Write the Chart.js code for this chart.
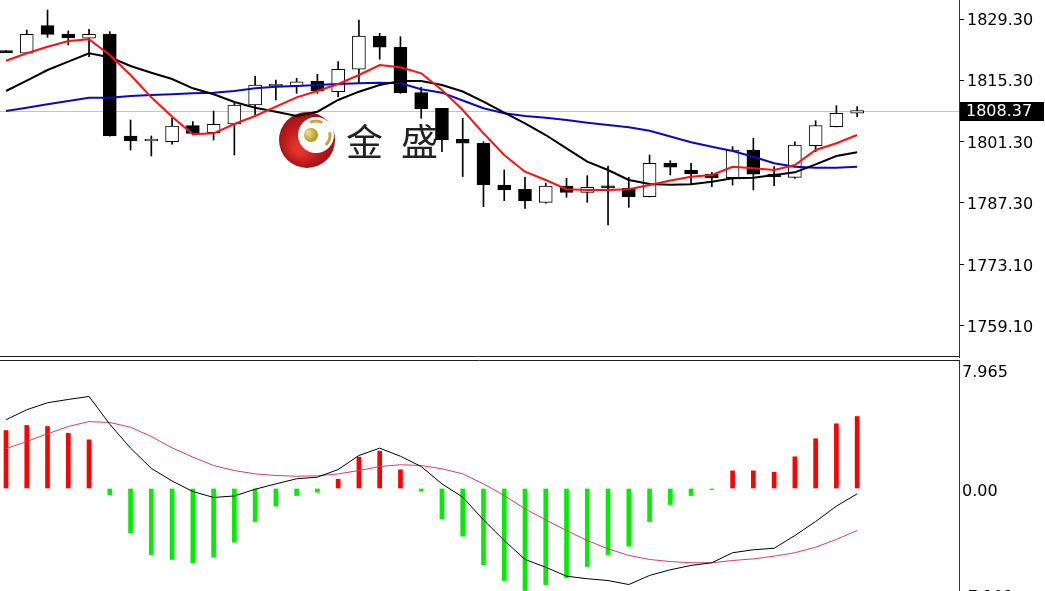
<!DOCTYPE html>
<html>
<head>
<meta charset="utf-8">
<script src="https://cdn.jsdelivr.net/npm/chart.js@4.4.1/dist/chart.umd.min.js"></script>
<style>
  html, body { margin: 0; padding: 0; background: #fff; overflow: hidden; width: 1045px; height: 591px; }
  #pricePane { position: absolute; left: 0; top: 0; width: 1045px; height: 358px; }
  #macdPane { position: absolute; left: 0; top: 360px; width: 1045px; height: 260px; }
</style>
</head>
<body>
<div id="pricePane"><canvas id="priceChart"></canvas></div>
<div id="macdPane"><canvas id="macdChart"></canvas></div>
<script>
// candles, oldest first
const opens  = [1822.1, 1821.46, 1827.77, 1825.87, 1824.89, 1825.87, 1802.55, 1801.4, 1801.24, 1804.9,
                1803.3, 1805.29, 1809.63, 1813.98, 1813.98, 1815.12, 1812.68, 1817.8, 1825.41, 1822.83,
                1812.45, 1808.88, 1801.79, 1800.88, 1791.34, 1790.36, 1787.38, 1791.11, 1789.67, 1790.81,
                1790.58, 1788.66, 1796.3, 1794.77, 1793.86, 1793.01, 1799.34, 1793.79, 1793.1, 1800.33,
                1804.67, 1807.74];
const highs  = [1822.1, 1826.78, 1831.36, 1826.56, 1826.94, 1826.4, 1806.2, 1802.55, 1806.59, 1805.82,
                1808.26, 1810.02, 1816.27, 1815.35, 1815.74, 1816.65, 1819.54, 1829.07, 1826.03, 1825.25,
                1813.68, 1808.9, 1806.59, 1801.24, 1794.77, 1793.1, 1791.73, 1792.87, 1793.47, 1795.68,
                1793.1, 1798.2, 1796.9, 1796.3, 1794.24, 1800.1, 1802.02, 1795.53, 1801.24, 1806.04,
                1809.47, 1809.25];
const lows   = [1821.6, 1821.4, 1825.12, 1823.35, 1820.68, 1802.5, 1799.34, 1797.97, 1800.65, 1802.77,
                1801.63, 1798.2, 1807.35, 1810.78, 1812.31, 1812.31, 1811.53, 1814.73, 1820.08, 1812.3,
                1806.59, 1798.96, 1793.24, 1786.38, 1787.75, 1786.0, 1787.16, 1788.53, 1787.38, 1782.19,
                1786.24, 1788.6, 1793.63, 1791.5, 1790.95, 1791.34, 1790.2, 1791.18, 1792.87, 1798.96,
                1804.6, 1806.96];
const closes = [1821.6, 1825.8, 1825.8, 1825.02, 1825.8, 1802.55, 1801.47, 1801.4, 1804.83, 1803.16,
                1805.22, 1809.63, 1814.21, 1813.98, 1814.96, 1812.84, 1817.8, 1825.41, 1822.83, 1812.45,
                1808.72, 1801.63, 1800.88, 1791.34, 1790.2, 1787.68, 1791.11, 1789.67, 1790.81, 1790.7,
                1788.66, 1796.3, 1795.39, 1793.86, 1793.01, 1799.34, 1793.79, 1793.24, 1800.49, 1804.9,
                1807.74, 1808.37];

// moving averages
const maFast = [1819.76, 1821.46, 1822.97, 1824.27, 1824.66, 1821.07, 1816.49, 1811.39, 1806.96, 1802.93,
                1803.16, 1805.29, 1807.12, 1809.25, 1811.39, 1812.84, 1814.44, 1816.49, 1818.78, 1818.25,
                1816.88, 1813.06, 1808.49, 1803.16, 1798.2, 1794.38, 1792.48, 1790.36, 1790.2, 1790.2,
                1790.36, 1791.34, 1792.37, 1793.24, 1793.63, 1795.52, 1795.16, 1794.77, 1795.91, 1799.34,
                1800.88, 1802.77];
const maMid  = [1812.84, 1815.19, 1817.64, 1819.54, 1821.46, 1820.54, 1818.55, 1817.02, 1815.58, 1813.45,
                1812.08, 1810.32, 1809.02, 1808.1, 1807.12, 1808.1, 1810.78, 1812.68, 1814.21, 1815.12,
                1815.12, 1814.21, 1812.72, 1810.39, 1807.87, 1805.45, 1802.77, 1799.73, 1796.67, 1794.77,
                1792.48, 1791.57, 1791.41, 1791.49, 1792.09, 1792.87, 1793.01, 1793.63, 1794.24, 1796.07,
                1797.97, 1798.82];
const maSlow = [1808.26, 1809.02, 1809.79, 1810.55, 1811.3, 1811.3, 1811.69, 1811.92, 1812.08, 1812.31,
                1812.45, 1812.84, 1813.45, 1813.82, 1813.98, 1814.21, 1814.44, 1814.6, 1814.73, 1814.6,
                1813.22, 1812.45, 1810.66, 1808.88, 1807.74, 1807.12, 1806.73, 1806.2, 1805.59, 1805.06,
                1804.53, 1803.76, 1802.43, 1801.1, 1800.1, 1799.11, 1797.81, 1796.3, 1795.52, 1795.3,
                1795.3, 1795.52];

const priceTicks = [1829.30, 1815.30, 1801.30, 1787.30, 1773.10, 1759.10];
const lastPrice = 1808.37;

// MACD pane
const macdHist = [3.88, 4.22, 4.15, 3.70, 3.26, -0.42, -2.97, -4.42, -4.75, -4.97,
                  -4.60, -3.59, -2.21, -1.18, -0.47, -0.25, 0.62, 2.10, 2.50, 1.25,
                  -0.18, -2.03, -3.19, -5.11, -6.16, -6.83, -6.43, -5.98, -5.22, -4.42,
                  -3.86, -2.21, -1.07, -0.47, -0.07, 1.18, 1.18, 1.09, 2.12, 3.33,
                  4.33, 4.82];
const macdLine = [4.60, 5.27, 5.74, 5.96, 6.16, 4.30, 2.70, 1.35, 0.50, -0.20,
                  -0.60, -0.50, -0.05, 0.31, 0.65, 0.76, 1.27, 2.21, 2.70, 2.16,
                  1.47, 0.31, -0.58, -2.10, -3.48, -4.75, -5.27, -5.87, -6.04, -6.16,
                  -6.43, -5.82, -5.44, -5.15, -4.97, -4.30, -4.10, -4.00, -3.15, -2.21,
                  -1.18, -0.36];
const signalLine = [2.66, 3.15, 3.66, 4.15, 4.48, 4.42, 4.10, 3.48, 2.72, 2.10,
                    1.54, 1.20, 0.98, 0.87, 0.82, 0.85, 0.98, 1.20, 1.47, 1.59,
                    1.54, 1.32, 0.98, 0.31, -0.47, -1.36, -2.10, -2.81, -3.48, -4.04,
                    -4.48, -4.75, -4.89, -4.97, -4.97, -4.82, -4.71, -4.53, -4.30, -3.93,
                    -3.41, -2.81];
const macdTicks = [7.965, 0, -7.101];
const macdTickLabels = ['7.965', '0.00', '-7.101'];

const xMin = -0.289, xMax = 45.906;
const pts = arr => arr.map((v, i) => ({ x: i, y: v }));

const xAxis = { type: 'linear', display: false, min: xMin, max: xMax, offset: false };

const priceDecor = {
  id: 'priceDecor',
  beforeDatasetsDraw(chart) {
    const c = chart.ctx, a = chart.chartArea, ys = chart.scales.y;
    c.save();
    // last price line
    const py = Math.round(ys.getPixelForValue(lastPrice)) + 0.5;
    c.strokeStyle = '#c4c4c4';
    c.lineWidth = 1;
    c.beginPath(); c.moveTo(a.left, py); c.lineTo(a.right, py); c.stroke();

    // logo
    const g = c.createRadialGradient(298, 150, 4, 307, 140, 30);
    g.addColorStop(0, '#e3342c'); g.addColorStop(1, '#a00a10');
    c.fillStyle = g;
    c.beginPath(); c.arc(307, 140, 28, 0, Math.PI * 2); c.fill();
    c.fillStyle = '#fff';
    c.beginPath(); c.arc(316, 135, 18, 0, Math.PI * 2); c.fill();
    const gb = c.createRadialGradient(308, 132, 1, 310, 135, 8);
    gb.addColorStop(0, '#f1dd78'); gb.addColorStop(1, '#b08c22');
    c.fillStyle = gb;
    c.beginPath(); c.arc(311, 135, 7, 0, Math.PI * 2); c.fill();
    c.strokeStyle = '#c6a43c';
    c.lineWidth = 3;
    c.beginPath(); c.arc(316, 135, 14, -2.0, -1.1); c.stroke();
    c.beginPath(); c.arc(316, 135, 14, -0.2, 0.8); c.stroke();

    c.fillStyle = '#222';
    c.font = '37px "Noto Sans CJK SC"';
    c.textBaseline = 'middle';
    c.fillText('金', 346, 142);
    c.fillText('盛', 401, 142);
    c.restore();
  },
  afterDraw(chart) {
    const c = chart.ctx, a = chart.chartArea, ys = chart.scales.y;
    c.save();
    const py = ys.getPixelForValue(lastPrice);
    c.fillStyle = '#000';
    c.fillRect(960, Math.round(py) - 9, 84, 19);
    c.fillStyle = '#fff';
    c.font = '16px "DejaVu Sans"';
    c.textBaseline = 'middle';
    c.fillText(lastPrice.toFixed(2), 966, py + 1.5);
    // pane separator
    c.strokeStyle = '#222';
    c.lineWidth = 1;
    c.beginPath(); c.moveTo(a.left, a.bottom - 1.5); c.lineTo(a.right, a.bottom - 1.5); c.stroke();
    c.restore();
  }
};

new Chart(document.getElementById('priceChart'), {
  type: 'bar',
  data: {
    datasets: [
      {
        type: 'line', data: pts(maFast), borderColor: '#ff1010', borderWidth: 2,
        pointRadius: 0, tension: 0, order: 1
      },
      {
        type: 'line', data: pts(maMid), borderColor: '#000000', borderWidth: 2,
        pointRadius: 0, tension: 0, order: 2
      },
      {
        type: 'line', data: pts(maSlow), borderColor: '#0a0ac4', borderWidth: 2,
        pointRadius: 0, tension: 0, order: 3
      },
      {
        // bodies
        data: opens.map((o, i) => ({ x: i, y: [o, closes[i]] })),
        backgroundColor: ctx => closes[ctx.dataIndex] >= opens[ctx.dataIndex] ? '#ffffff' : '#000000',
        borderColor: '#000', borderWidth: 1, borderSkipped: false,
        barThickness: 13, minBarLength: 2, order: 4
      },
      {
        // wicks
        data: lows.map((l, i) => ({ x: i, y: [l, highs[i]] })),
        backgroundColor: '#000', barThickness: 1, order: 5
      }
    ]
  },
  options: {
    responsive: true,
    maintainAspectRatio: false,
    animation: false,
    layout: { padding: 0 },
    datasets: { bar: { grouped: false } },
    plugins: { legend: { display: false }, tooltip: { enabled: false } },
    scales: {
      x: xAxis,
      y: {
        position: 'right',
        min: 1751.78, max: 1833.645,
        afterBuildTicks: s => { s.ticks = priceTicks.map(v => ({ value: v })); },
        afterFit: s => { s.width = 86; s.paddingTop = 0; s.paddingBottom = 0; },
        grid: { drawOnChartArea: false, drawTicks: true, tickLength: 5, color: '#000' },
        border: { display: true, color: '#333', width: 1 },
        ticks: {
          padding: 3, color: '#000', labelOffset: 2,
          font: { family: 'DejaVu Sans', size: 16 },
          callback: v => v.toFixed(2)
        }
      }
    }
  },
  plugins: [priceDecor]
});

const macdDecor = {
  id: 'macdDecor',
  afterDraw(chart) {
    const c = chart.ctx, a = chart.chartArea;
    c.save();
    c.strokeStyle = '#222';
    c.lineWidth = 1;
    c.beginPath(); c.moveTo(a.left, 0.5); c.lineTo(a.right, 0.5); c.stroke();
    c.restore();
  }
};

new Chart(document.getElementById('macdChart'), {
  type: 'bar',
  data: {
    datasets: [
      {
        type: 'line', data: pts(macdLine), borderColor: '#000', borderWidth: 1,
        pointRadius: 0, tension: 0, order: 1
      },
      {
        type: 'line', data: pts(signalLine), borderColor: '#dc3c64', borderWidth: 1,
        pointRadius: 0, tension: 0, order: 2
      },
      {
        data: pts(macdHist),
        backgroundColor: macdHist.map(v => v >= 0 ? '#ff0000' : '#00ee00'),
        barThickness: 4, order: 3
      }
    ]
  },
  options: {
    responsive: true,
    maintainAspectRatio: false,
    animation: false,
    layout: { padding: 0 },
    datasets: { bar: { grouped: false } },
    plugins: { legend: { display: false }, tooltip: { enabled: false } },
    scales: {
      x: xAxis,
      y: {
        position: 'right',
        min: -8.802, max: 8.601,
        afterBuildTicks: s => { s.ticks = macdTicks.map(v => ({ value: v })); },
        afterFit: s => { s.width = 86; s.paddingTop = 0; s.paddingBottom = 0; },
        grid: { drawOnChartArea: false, drawTicks: false },
        border: { display: true, color: '#333', width: 1 },
        ticks: {
          padding: 3, color: '#000', labelOffset: 3,
          font: { family: 'DejaVu Sans', size: 16 },
          callback: (v, i) => macdTickLabels[i]
        }
      }
    }
  },
  plugins: [macdDecor]
});
</script>
</body>
</html>
